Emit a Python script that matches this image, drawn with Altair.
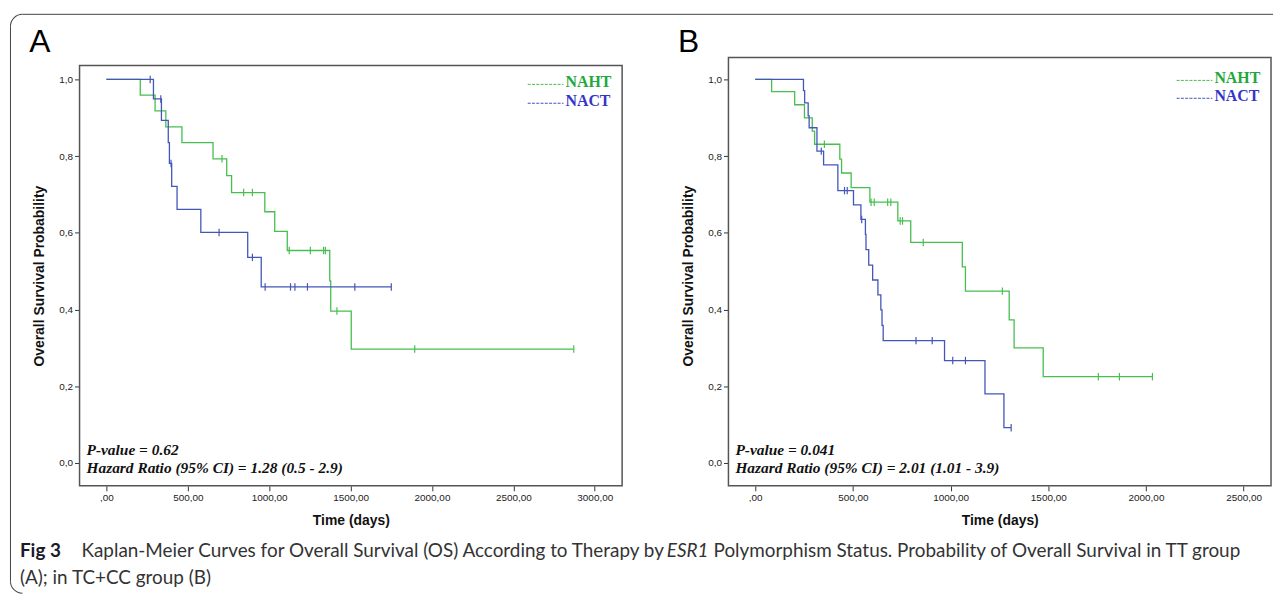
import altair as alt
import pandas as pd

# ---------------- data ----------------
# Panel A (TT group): event times (days) and survival after each step
A_NAHT_T = [0, 208, 299, 365, 464, 655, 739, 769, 973, 1034, 1111, 1372, 1378, 1504, 2871]
A_NAHT_S = [1.0, 0.959, 0.918, 0.876, 0.835, 0.793, 0.749, 0.705, 0.655, 0.604, 0.554, 0.475, 0.396, 0.297, 0.297]
A_NAHT_CT = [710, 843, 897, 1123, 1253, 1334, 1345, 1416, 1894, 2871]
A_NAHT_CS = [0.793, 0.705, 0.705, 0.554, 0.554, 0.554, 0.554, 0.396, 0.297, 0.297]
A_NACT_T = [0, 289, 338, 380, 387, 401, 434, 580, 868, 951, 1750]
A_NACT_S = [1.0, 0.949, 0.893, 0.835, 0.781, 0.721, 0.661, 0.601, 0.536, 0.459, 0.459]
A_NACT_CT = [269, 334, 397, 692, 897, 975, 1131, 1158, 1235, 1526, 1750]
A_NACT_CS = [1.0, 0.949, 0.781, 0.601, 0.536, 0.459, 0.459, 0.459, 0.459, 0.459, 0.459]

# Panel B (TC+CC group)
B_NAHT_T = [0, 84, 202, 252, 292, 304, 433, 442, 491, 587, 730, 796, 1060, 1076, 1300, 1325, 1474, 2033]
B_NAHT_S = [1.0, 0.968, 0.934, 0.900, 0.865, 0.831, 0.792, 0.756, 0.718, 0.680, 0.631, 0.575, 0.511, 0.448, 0.373, 0.300, 0.225, 0.225]
B_NAHT_CT = [354, 593, 609, 678, 694, 742, 754, 860, 1265, 1756, 1864, 2033]
B_NAHT_CS = [0.831, 0.680, 0.680, 0.680, 0.680, 0.631, 0.631, 0.575, 0.448, 0.225, 0.225, 0.225]
B_NACT_T = [0, 247, 253, 271, 276, 316, 350, 423, 503, 541, 564, 567, 581, 601, 628, 643, 649, 655, 969, 1176, 1273, 1310]
B_NACT_S = [1.0, 0.971, 0.939, 0.905, 0.874, 0.813, 0.777, 0.710, 0.673, 0.635, 0.596, 0.556, 0.516, 0.477, 0.438, 0.399, 0.359, 0.319, 0.267, 0.180, 0.092, 0.092]
B_NACT_CT = [338, 457, 471, 545, 823, 906, 1011, 1076, 1310]
B_NACT_CS = [0.813, 0.710, 0.710, 0.635, 0.319, 0.319, 0.267, 0.267, 0.092]

GROUPS = ["NAHT", "NACT"]
A_X_TICKS = [0, 500, 1000, 1500, 2000, 2500, 3000]
B_X_TICKS = [0, 500, 1000, 1500, 2000, 2500]
Y_TICKS = [0.0, 0.2, 0.4, 0.6, 0.8, 1.0]

A_STATS = ["P-value = 0.62", "Hazard Ratio (95% CI) = 1.28 (0.5 - 2.9)"]
B_STATS = ["P-value = 0.041", "Hazard Ratio (95% CI) = 2.01 (1.01 - 3.9)"]

CAP_BOLD = "Fig 3"
CAP_1A = "Kaplan-Meier Curves for Overall Survival (OS) According to Therapy by"
CAP_1B = "ESR1"
CAP_1C = "Polymorphism Status. Probability of Overall Survival in TT group"
CAP_2 = "(A); in TC+CC group (B)"

# ---------------- styling ----------------
GREEN = "#46bf4f"
BLUE = "#4456b8"
GREEN_TXT = "#1fa83c"
BLUE_TXT = "#3535c8"
FRAME = "#555555"
BORDER = "#444444"
W, H = 546, 423
SANS = "Liberation Sans"
SERIF = "Liberation Serif"
CAPFONT = "Lato"
CAPSIZE = 19

one = pd.DataFrame({"k": [0]})


def curve_df(t1, s1, t2, s2):
    return pd.concat([
        pd.DataFrame({"t": t1, "s": s1, "g": GROUPS[0]}),
        pd.DataFrame({"t": t2, "s": s2, "g": GROUPS[1]}),
    ], ignore_index=True)


def text(txt, x, y, **kw):
    return alt.Chart(one).mark_text(text=txt, **kw).encode(x=alt.value(x), y=alt.value(y))


def panel(curves, cens, xdom, xticks, stats, letter, frame_top):
    color = alt.Color("g:N", scale=alt.Scale(domain=GROUPS, range=[GREEN, BLUE]), legend=None)
    xenc = alt.X("t:Q", scale=alt.Scale(domain=xdom, nice=False, zero=False),
                 axis=alt.Axis(values=xticks, title="Time (days)",
                               labelExpr="datum.value == 0 ? ',00' : datum.value + ',00'"))
    yenc = alt.Y("s:Q", scale=alt.Scale(domain=[-0.0596, 1.0363], nice=False, zero=False),
                 axis=alt.Axis(values=Y_TICKS, title="Overall Survival Probability",
                               labelExpr="replace(format(datum.value, '.1f'), '.', ',')"))
    lines = alt.Chart(curves).mark_line(interpolate="step-after", strokeWidth=1.3).encode(
        x=xenc, y=yenc, color=color, detail="g:N")
    marks = alt.Chart(cens).mark_point(shape="M0,-1L0,1", size=56, strokeWidth=1.2,
                                       filled=False, opacity=1).encode(
        x=alt.X("t:Q"), y=alt.Y("s:Q"), color=color)
    frame = alt.Chart(one).mark_rect(filled=False, color=FRAME, strokeWidth=1.5).encode(
        x=alt.value(0), x2=alt.value(W), y=alt.value(frame_top), y2=alt.value(H))
    layers = [lines, marks, frame]
    # legend (custom, drawn like the SPSS one)
    ly = [17, 36] if frame_top == 0 else [13, 31]
    for i, (g, c, ct) in enumerate([("NAHT", GREEN, GREEN_TXT), ("NACT", BLUE, BLUE_TXT)]):
        layers.append(alt.Chart(one).mark_rule(color=c, strokeWidth=1, strokeDash=[3, 1.3]).encode(
            x=alt.value(W - 95), x2=alt.value(W - 59), y=alt.value(ly[i] + 2)))
        layers.append(text(g, W - 57, ly[i], align="left", baseline="middle", font=SERIF,
                           fontSize=16, fontWeight="bold", color=ct))
    layers.append(text(stats[0], 7, 387, align="left", baseline="middle", font=SERIF,
                       fontSize=15.5, fontWeight="bold", fontStyle="italic", color="#111"))
    layers.append(text(stats[1], 7, 405, align="left", baseline="middle", font=SERIF,
                       fontSize=15.5, fontWeight="bold", fontStyle="italic", color="#111"))
    layers.append(text(letter, -40, -24, align="center", baseline="middle", font=SANS,
                       fontSize=32, color="#000"))
    return layers


A_curves = curve_df(A_NAHT_T, A_NAHT_S, A_NACT_T, A_NACT_S)
A_cens = curve_df(A_NAHT_CT, A_NAHT_CS, A_NACT_CT, A_NACT_CS)
B_curves = curve_df(B_NAHT_T, B_NAHT_S, B_NACT_T, B_NACT_S)
B_cens = curve_df(B_NAHT_CT, B_NAHT_CS, B_NACT_CT, B_NACT_CS)

A_layers = panel(A_curves, A_cens, [-165, 3168], A_X_TICKS, A_STATS, "A", 0)
B_layers = panel(B_curves, B_cens, [-137, 2640], B_X_TICKS, B_STATS, "B", -8)

# outer rounded figure border (top + left edges) and caption, attached to panel A
ox, oy = 80, 64  # panel A origin in page pixels
bx, by, r = 10.5 - ox, 12.5 - oy, 12
A_layers += [
    alt.Chart(one).mark_rule(color=BORDER, strokeWidth=1).encode(
        x=alt.value(bx + r), x2=alt.value(1281 - ox), y=alt.value(by)),
    alt.Chart(one).mark_rule(color=BORDER, strokeWidth=1).encode(
        x=alt.value(bx), y=alt.value(by + r), y2=alt.value(583 - oy)),
    alt.Chart(one).mark_arc(color=BORDER).encode(
        x=alt.value(bx + r), y=alt.value(by + r), theta=alt.value(4.712389),
        theta2=alt.value(6.283185), radius=alt.value(r + 0.5), radius2=alt.value(r - 0.5)),
    alt.Chart(one).mark_arc(color=BORDER).encode(
        x=alt.value(bx + r), y=alt.value(583 - oy), theta=alt.value(3.141593),
        theta2=alt.value(4.712389), radius=alt.value(r + 0.5), radius2=alt.value(r - 0.5)),
    text(CAP_BOLD, 20 - ox, 553 - oy, align="left", baseline="middle", font=CAPFONT,
         fontSize=CAPSIZE, fontWeight="bold", color="#1a1a2a"),
    text(CAP_1A, 82 - ox, 553 - oy, align="left", baseline="middle", font=CAPFONT,
         fontSize=CAPSIZE, color="#333"),
    text(CAP_1B, 671 - ox, 553 - oy, align="left", baseline="middle", font=CAPFONT,
         fontSize=CAPSIZE, fontStyle="italic", color="#333"),
    text(CAP_1C, 718 - ox, 553 - oy, align="left", baseline="middle", font=CAPFONT,
         fontSize=CAPSIZE, color="#333"),
    text(CAP_2, 20 - ox, 580 - oy, align="left", baseline="middle", font=CAPFONT,
         fontSize=CAPSIZE, color="#333"),
]

A = alt.layer(*A_layers).properties(width=W, height=H)
B = alt.layer(*B_layers).properties(width=W, height=H)

chart = alt.hconcat(A, B, spacing=107, bounds="flush").properties(
    padding={"left": 2, "top": 4, "right": 0, "bottom": 0}
).configure_view(stroke=None).configure_axis(
    domain=False, grid=False, ticks=True, tickSize=5, tickColor="#333", tickWidth=1,
    labelFont=SANS, labelFontSize=10, labelColor="#222", labelPadding=2,
    labelFlush=False, labelOverlap=False,
    titleFont=SANS, titleFontSize=14, titleFontWeight="bold", titleColor="#111"
).configure_axisY(titlePadding=12).configure_axisX(titlePadding=11)

chart.save("out.html", embed_options={"renderer": "svg", "actions": False})
